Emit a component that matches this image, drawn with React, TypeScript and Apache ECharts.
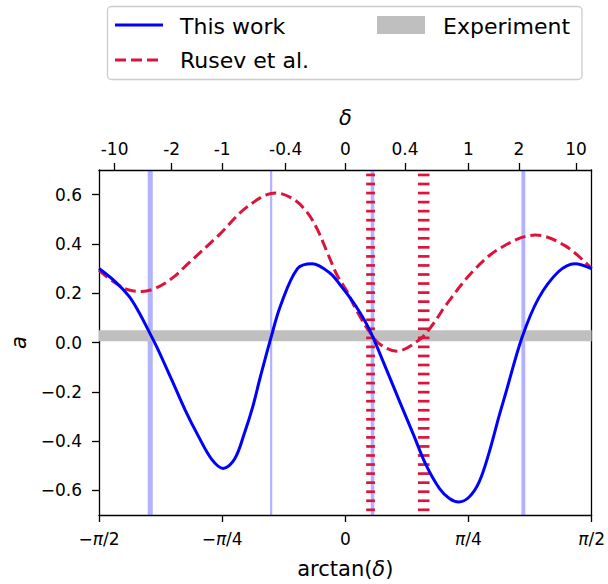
import React, { useEffect, useRef } from "react";
import * as echarts from "echarts";

// ---- tick definitions ----
const xTickValues = [-Math.PI / 2, -Math.PI / 4, 0, Math.PI / 4, Math.PI / 2];
const xTickLabels = ["{n|−}{i|π}{n|/2}", "{n|−}{i|π}{n|/4}", "{n|0}", "{i|π}{n|/4}", "{i|π}{n|/2}"];
const deltaTicks = [-10, -2, -1, -0.4, 0, 0.4, 1, 2, 10];
const deltaLabels = ["-10", "-2", "-1", "-0.4", "0", "0.4", "1", "2", "10"];
const yTicks = [-0.6, -0.4, -0.2, 0, 0.2, 0.4, 0.6];
const yTickLabels = ["−0.6", "−0.4", "−0.2", "0.0", "0.2", "0.4", "0.6"];

// ---- series data: x = arctan(delta) in rad ----
const blueX = [-1.5707, -1.464, -1.38, -1.317, -1.254, -1.201, -1.106, -1.022, -0.937, -0.853, -0.779, -0.706, -0.643, -0.59, -0.542, -0.474, -0.411, -0.305, -0.211, -0.095, -0.032, 0.032, 0.095, 0.158, 0.264, 0.348, 0.432, 0.517, 0.601, 0.664, 0.723, 0.79, 0.853, 0.917, 0.98, 1.022, 1.127, 1.233, 1.359, 1.464, 1.5707];
const blueY = [0.30, 0.245, 0.188, 0.124, 0.047, -0.02, -0.153, -0.273, -0.38, -0.473, -0.511, -0.473, -0.367, -0.26, -0.14, 0.02, 0.153, 0.30, 0.32, 0.28, 0.233, 0.18, 0.12, 0.047, -0.112, -0.242, -0.37, -0.5, -0.593, -0.633, -0.647, -0.627, -0.567, -0.447, -0.3, -0.208, 0.02, 0.18, 0.287, 0.32, 0.30];

const redX = [-1.5707, -1.464, -1.38, -1.296, -1.212, -1.106, -0.991, -0.811, -0.621, -0.443, -0.327, -0.242, -0.179, -0.116, -0.052, 0.011, 0.074, 0.158, 0.221, 0.327, 0.474, 0.558, 0.643, 0.811, 0.98, 1.212, 1.401, 1.5707];
const redY = [0.293, 0.24, 0.213, 0.207, 0.22, 0.26, 0.327, 0.433, 0.553, 0.607, 0.58, 0.527, 0.46, 0.367, 0.273, 0.207, 0.127, 0.04, -0.007, -0.035, 0.012, 0.073, 0.153, 0.287, 0.38, 0.436, 0.393, 0.30];

// vertical spans (rad) and experimental band (a)
const blueBands = [[-1.26, -1.228], [-0.48, -0.466], [0.162, 0.185], [1.123, 1.148]];
const redHatch = [[0.133, 0.189], [0.463, 0.537]];
const expBand = [0.005, 0.05];

const FONT = "DejaVu Sans";
const BLUE = "#0000ff";
const RED = "#dc143c";

function nearestIdx(arr: number[], v: number) {
  let best = 0;
  let bd = Infinity;
  arr.forEach((a, i) => {
    const d = Math.abs(a - v);
    if (d < bd) { bd = d; best = i; }
  });
  return best;
}

export default function App() {
  const ref = useRef<HTMLDivElement>(null);
  useEffect(() => {
    if (!ref.current) return;
    const chart = echarts.init(ref.current, undefined, { renderer: "svg" });
    const topPos = deltaTicks.map((d) => Math.atan(d));
    const zip = (xs: number[], ys: number[]) => xs.map((x, i) => [x, ys[i]]);
    const axisLineStyle = { color: "#000", width: 1.3 };
    const labelStyle = { color: "#000", fontSize: 17, fontFamily: FONT };
    const option: any = {
      animation: false,
      grid: { left: 96, right: 14, top: 170, bottom: 64, containLabel: false },
      xAxis: [
        {
          type: "value",
          position: "bottom",
          min: -Math.PI / 2,
          max: Math.PI / 2,
          axisLine: { show: true, lineStyle: axisLineStyle, onZero: false },
          axisTick: { show: true, length: 7, lineStyle: axisLineStyle, customValues: xTickValues },
          axisLabel: {
            customValues: xTickValues,
            margin: 15,
            formatter: (v: number) => xTickLabels[nearestIdx(xTickValues, v)],
            rich: {
              n: { ...labelStyle },
              i: { ...labelStyle, fontStyle: "italic" },
            },
            ...labelStyle,
          },
          splitLine: { show: false },
          name: "arctan({i|δ})",
          nameLocation: "middle",
          nameGap: 43,
          nameTextStyle: {
            color: "#000", fontSize: 21, fontFamily: FONT,
            rich: { i: { color: "#000", fontSize: 21, fontFamily: FONT, fontStyle: "italic" } },
          },
        },
        {
          type: "value",
          position: "top",
          min: -Math.PI / 2,
          max: Math.PI / 2,
          axisLine: { show: true, lineStyle: axisLineStyle, onZero: false },
          axisTick: { show: true, length: 7, lineStyle: axisLineStyle, customValues: topPos },
          axisLabel: {
            customValues: topPos,
            margin: 13,
            formatter: (v: number) => deltaLabels[nearestIdx(topPos, v)],
            ...labelStyle,
          },
          splitLine: { show: false },
          name: "δ",
          nameLocation: "middle",
          nameGap: 42,
          nameTextStyle: { color: "#000", fontSize: 21, fontFamily: FONT, fontStyle: "italic" },
        },
      ],
      yAxis: [
        {
          type: "value",
          min: -0.7,
          max: 0.7,
          axisLine: { show: true, lineStyle: axisLineStyle, onZero: false },
          axisTick: { show: true, length: 7, lineStyle: axisLineStyle, customValues: yTicks },
          axisLabel: {
            customValues: yTicks,
            margin: 17,
            formatter: (v: number) => yTickLabels[nearestIdx(yTicks, v)],
            ...labelStyle,
          },
          splitLine: { show: false },
          name: "a",
          nameLocation: "middle",
          nameRotate: 90,
          nameGap: 70,
          nameTextStyle: { color: "#000", fontSize: 21, fontFamily: FONT, fontStyle: "italic" },
        },
        {
          type: "value",
          position: "right",
          min: -0.7,
          max: 0.7,
          axisLine: { show: true, lineStyle: axisLineStyle, onZero: false },
          axisTick: { show: false },
          axisLabel: { show: false },
          splitLine: { show: false },
        },
      ],
      series: [
        {
          name: "bands",
          type: "custom",
          xAxisIndex: 0,
          yAxisIndex: 0,
          z: 1,
          silent: true,
          clip: true,
          data: blueBands,
          renderItem: (params: any, api: any) => {
            const x0 = api.coord([api.value(0), 0])[0];
            const x1 = api.coord([api.value(1), 0])[0];
            const cs = params.coordSys;
            return {
              type: "rect",
              shape: { x: x0, y: cs.y, width: Math.max(1, x1 - x0), height: cs.height },
              style: { fill: "rgba(0,0,255,0.3)" },
            };
          },
        },
        {
          name: "Experiment",
          type: "custom",
          xAxisIndex: 0,
          yAxisIndex: 0,
          z: 2,
          silent: true,
          clip: true,
          data: [expBand],
          renderItem: (params: any, api: any) => {
            const y0 = api.coord([0, api.value(0)])[1];
            const y1 = api.coord([0, api.value(1)])[1];
            const cs = params.coordSys;
            return {
              type: "rect",
              shape: { x: cs.x, y: y1, width: cs.width, height: y0 - y1 },
              style: { fill: "#bfbfbf" },
            };
          },
        },
        {
          name: "hatch",
          type: "custom",
          xAxisIndex: 0,
          yAxisIndex: 0,
          z: 3,
          silent: true,
          clip: true,
          data: redHatch,
          renderItem: (params: any, api: any) => {
            const x0 = api.coord([api.value(0), 0])[0];
            const x1 = api.coord([api.value(1), 0])[0];
            const cs = params.coordSys;
            const children: any[] = [];
            for (let y = cs.y + 3.6; y < cs.y + cs.height - 1; y += 9.05) {
              children.push({
                type: "rect",
                shape: { x: x0, y: y, width: x1 - x0, height: 2.7 },
                style: { fill: RED },
              });
            }
            return { type: "group", children };
          },
        },
        {
          name: "Rusev et al.",
          type: "line",
          z: 4,
          smooth: 0.35,
          showSymbol: false,
          data: zip(redX, redY),
          lineStyle: { color: RED, width: 3, type: [11, 5] },
          itemStyle: { color: RED },
        },
        {
          name: "This work",
          type: "line",
          z: 5,
          smooth: 0.35,
          showSymbol: false,
          data: zip(blueX, blueY),
          lineStyle: { color: BLUE, width: 3 },
          itemStyle: { color: BLUE },
        },
      ],
      graphic: [
        {
          type: "rect",
          shape: { x: 107.5, y: 6.5, width: 474.5, height: 73, r: 4 },
          style: { fill: "#fff", stroke: "#cccccc", lineWidth: 1.3 },
          z: 100,
        },
        {
          type: "line",
          shape: { x1: 115, y1: 25, x2: 163, y2: 25 },
          style: { stroke: BLUE, lineWidth: 3 },
          z: 101,
        },
        {
          type: "line",
          shape: { x1: 115, y1: 60, x2: 163, y2: 60 },
          style: { stroke: RED, lineWidth: 3, lineDash: [11, 5] },
          z: 101,
        },
        {
          type: "rect",
          shape: { x: 377, y: 16, width: 48, height: 18 },
          style: { fill: "#bfbfbf" },
          z: 101,
        },
        {
          type: "text",
          x: 180, y: 26,
          style: { text: "This work", fill: "#000", fontSize: 22, fontFamily: FONT, verticalAlign: "middle" },
          z: 101,
        },
        {
          type: "text",
          x: 180, y: 60,
          style: { text: "Rusev et al.", fill: "#000", fontSize: 22, fontFamily: FONT, verticalAlign: "middle" },
          z: 101,
        },
        {
          type: "text",
          x: 443, y: 26,
          style: { text: "Experiment", fill: "#000", fontSize: 22, fontFamily: FONT, verticalAlign: "middle" },
          z: 101,
        },
      ],
    };
    chart.setOption(option);
    return () => chart.dispose();
  }, []);
  return (
    <div
      ref={ref}
      style={{ position: "fixed", left: 0, top: 0, width: 608, height: 584, background: "#fff" }}
    />
  );
}
